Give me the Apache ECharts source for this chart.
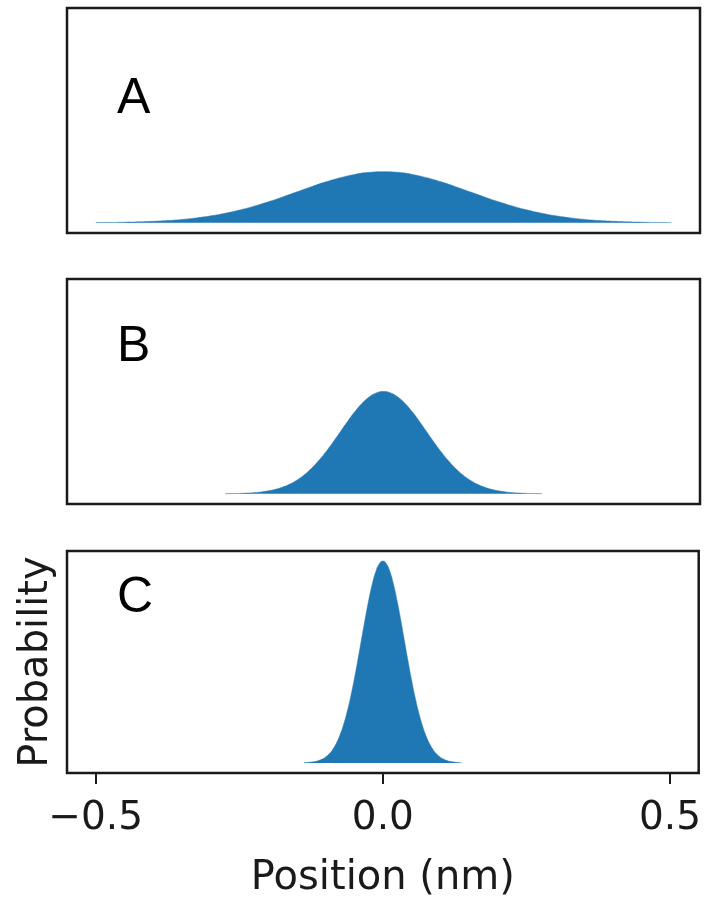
<!DOCTYPE html>
<html>
<head>
<meta charset="utf-8">
<script src="https://cdn.jsdelivr.net/npm/echarts@6/dist/echarts.min.js"></script>
<style>
html,body{margin:0;padding:0;background:#fff;}
#chart{width:704px;height:900px;}
</style>
</head>
<body>
<div id="chart"></div>
<script>
// Panel labels
var panelLabels = ['A', 'B', 'C'];
// Axis ticks
var tickValues = [-0.5, 0, 0.5];
var tickLabels = ['\u22120.5', '0.0', '0.5'];
var xAxisTitle = 'Position (nm)';
var yAxisTitle = 'Probability';

// Panel A (broad distribution)
var xA = [-0.5,-0.475,-0.45,-0.425,-0.4,-0.375,-0.35,-0.325,-0.3,-0.275,-0.25,-0.225,-0.2,-0.175,-0.15,-0.125,-0.1,-0.075,-0.05,-0.025,0,
          0.025,0.05,0.075,0.1,0.125,0.15,0.175,0.2,0.225,0.25,0.275,0.3,0.325,0.35,0.375,0.4,0.425,0.45,0.475,0.5];
var yA = [0.0010,0.0017,0.0028,0.0045,0.0071,0.0110,0.0164,0.0239,0.0338,0.0466,0.0624,0.0812,0.1028,0.1266,0.1516,0.1767,0.2002,0.2206,0.2365,0.2465,0.2500,
          0.2465,0.2365,0.2206,0.2002,0.1767,0.1516,0.1266,0.1028,0.0812,0.0624,0.0466,0.0338,0.0239,0.0164,0.0110,0.0071,0.0045,0.0028,0.0017,0.0010];

// Panel B (intermediate)
var xB = [-0.275,-0.2625,-0.25,-0.2375,-0.225,-0.2125,-0.2,-0.1875,-0.175,-0.1625,-0.15,-0.1375,-0.125,-0.1125,-0.1,-0.0875,-0.075,-0.0625,-0.05,-0.0375,-0.025,-0.0125,0,
          0.0125,0.025,0.0375,0.05,0.0625,0.075,0.0875,0.1,0.1125,0.125,0.1375,0.15,0.1625,0.175,0.1875,0.2,0.2125,0.225,0.2375,0.25,0.2625,0.275];
var yB = [0.0006,0.0011,0.0019,0.0033,0.0056,0.0090,0.0143,0.0220,0.0329,0.0478,0.0677,0.0932,0.1247,0.1623,0.2056,0.2532,0.3033,0.3533,0.4004,0.4412,0.4730,0.4931,0.5000,
          0.4931,0.4730,0.4412,0.4004,0.3533,0.3033,0.2532,0.2056,0.1623,0.1247,0.0932,0.0677,0.0478,0.0329,0.0220,0.0143,0.0090,0.0056,0.0033,0.0019,0.0011,0.0006];

// Panel C (narrow)
var xC = [-0.1375,-0.13125,-0.125,-0.11875,-0.1125,-0.10625,-0.1,-0.09375,-0.0875,-0.08125,-0.075,-0.06875,-0.0625,-0.05625,-0.05,-0.04375,-0.0375,-0.03125,-0.025,-0.01875,-0.0125,-0.00625,0,
          0.00625,0.0125,0.01875,0.025,0.03125,0.0375,0.04375,0.05,0.05625,0.0625,0.06875,0.075,0.08125,0.0875,0.09375,0.1,0.10625,0.1125,0.11875,0.125,0.13125,0.1375];
var yC = [0.0012,0.0022,0.0039,0.0067,0.0111,0.0181,0.0286,0.0439,0.0657,0.0956,0.1353,0.1863,0.2494,0.3247,0.4111,0.5063,0.6065,0.7066,0.8007,0.8825,0.9460,0.9862,1.0000,
          0.9862,0.9460,0.8825,0.8007,0.7066,0.6065,0.5063,0.4111,0.3247,0.2494,0.1863,0.1353,0.0956,0.0657,0.0439,0.0286,0.0181,0.0111,0.0067,0.0039,0.0022,0.0012];

var xs = [xA, xB, xC];
var ys = [yA, yB, yC];

var gridTops = [8, 279, 551];
var gridH = 225;
var fill = '#1f77b4';
var tickFont = 'DejaVu Sans';

var chart = echarts.init(document.getElementById('chart'), null, {renderer: 'canvas'});

var grids = [], xAxes = [], yAxes = [], series = [], titles = [];
for (var i = 0; i < 3; i++) {
  grids.push({left: 67, top: gridTops[i], width: 633, height: gridH, show: true,
    borderColor: '#1a1a1a', borderWidth: 2.5, backgroundColor: 'transparent', containLabel: false});
  var last = (i === 2);
  xAxes.push({
    type: 'value', gridIndex: i, min: -0.55, max: 0.55, position: 'bottom',
    axisLine: {show: false, onZero: false},
    splitLine: {show: false},
    axisTick: {show: last, length: 11, lineStyle: {color: '#1a1a1a', width: 2}, customValues: tickValues},
    axisLabel: {show: last, customValues: tickValues, margin: 26,
      fontFamily: tickFont, fontSize: 39, color: '#1a1a1a',
      formatter: function (v) { var k = tickValues.indexOf(v); return k >= 0 ? tickLabels[k] : ''; }},
    name: last ? xAxisTitle : '', nameLocation: 'middle', nameGap: 86,
    nameTextStyle: {fontFamily: tickFont, fontSize: 40, color: '#1a1a1a'}
  });
  yAxes.push({
    type: 'value', gridIndex: i, min: -0.05, max: 1.05,
    axisLine: {show: false, onZero: false}, axisTick: {show: false}, axisLabel: {show: false}, splitLine: {show: false},
    name: last ? yAxisTitle : '', nameLocation: 'middle', nameGap: 10,
    nameTextStyle: {fontFamily: tickFont, fontSize: 40, color: '#1a1a1a'}
  });
  var pts = [];
  for (var j = 0; j < xs[i].length; j++) pts.push([xs[i][j], ys[i][j]]);
  series.push({
    type: 'line', xAxisIndex: i, yAxisIndex: i, data: pts, smooth: true,
    showSymbol: false, symbol: 'none', silent: true,
    lineStyle: {width: 0.5, color: fill},
    areaStyle: {color: fill, opacity: 1, origin: 0}
  });
  titles.push({text: panelLabels[i], left: 112, top: gridTops[i] + [61, 38, 17][i],
    textStyle: {fontFamily: 'Liberation Sans', fontSize: 50, fontWeight: 'normal', color: '#000'}});
}

chart.setOption({
  animation: false,
  title: titles,
  grid: grids,
  xAxis: xAxes,
  yAxis: yAxes,
  series: series
});
</script>
</body>
</html>
